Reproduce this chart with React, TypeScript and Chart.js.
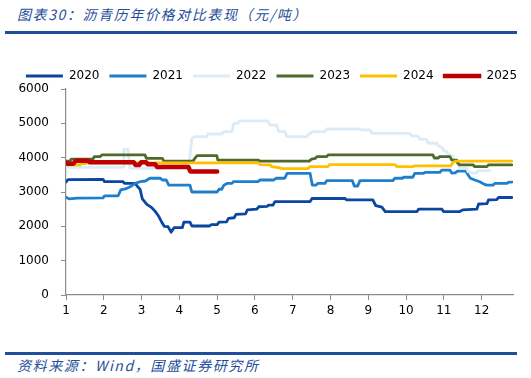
import { useEffect, useRef } from "react";
import { Chart, registerables } from "chart.js";
Chart.register(...registerables);

// [month position, price]
const years = ["2020", "2021", "2022", "2023", "2024", "2025"];

const s2020: [number, number][] = [
  [1.0, 3290], [1.05, 3360], [1.98, 3370], [2.02, 3300], [2.51, 3300], [2.55, 3250], [2.83, 3250],
  [2.9, 3150], [2.96, 3080], [3.02, 2800], [3.14, 2640], [3.25, 2560], [3.35, 2450], [3.45, 2300],
  [3.52, 2150], [3.6, 2000], [3.7, 1990], [3.78, 1830], [3.86, 1960], [4.08, 1960], [4.12, 2120],
  [4.28, 2120], [4.33, 2010], [4.8, 2010], [4.85, 2050], [5.0, 2050], [5.05, 2120], [5.25, 2130],
  [5.3, 2230], [5.45, 2250], [5.5, 2350], [5.75, 2360], [5.8, 2480], [6.05, 2500], [6.1, 2570],
  [6.32, 2580], [6.36, 2620], [6.48, 2620], [6.53, 2720], [7.46, 2720], [7.51, 2810], [8.38, 2815],
  [8.43, 2770], [9.12, 2770], [9.2, 2600], [9.36, 2560], [9.45, 2430], [10.29, 2430], [10.33, 2500],
  [10.95, 2500], [10.99, 2430], [11.42, 2430], [11.5, 2480], [11.87, 2500], [11.92, 2650],
  [12.14, 2660], [12.18, 2770], [12.4, 2780], [12.45, 2840], [12.8, 2840],
];

const s2021: [number, number][] = [
  [1.0, 2850], [1.08, 2800], [1.3, 2820], [1.98, 2830], [2.02, 2890], [2.38, 2890], [2.45, 3060],
  [2.6, 3100], [2.7, 3150], [2.83, 3250], [2.96, 3300], [3.1, 3320], [3.22, 3400], [3.5, 3400],
  [3.55, 3350], [3.65, 3350], [3.72, 3200], [4.28, 3200], [4.33, 3000], [5.0, 3000], [5.05, 3080],
  [5.12, 3080], [5.18, 3200], [5.26, 3250], [5.39, 3250], [5.43, 3300], [6.08, 3300], [6.13, 3350],
  [6.5, 3350], [6.56, 3400], [6.79, 3400], [6.85, 3540], [7.46, 3540], [7.52, 3200], [7.62, 3200],
  [7.66, 3250], [7.85, 3250], [7.9, 3330], [8.58, 3330], [8.63, 3175], [8.72, 3175], [8.78, 3330],
  [9.65, 3330], [9.7, 3400], [9.9, 3400], [9.94, 3430], [10.18, 3430], [10.23, 3540], [10.45, 3540],
  [10.5, 3570], [10.89, 3570], [10.95, 3640], [11.16, 3640], [11.21, 3550], [11.3, 3560],
  [11.36, 3610], [11.58, 3610], [11.64, 3500], [11.7, 3400], [11.82, 3350], [11.95, 3300],
  [12.06, 3230], [12.14, 3200], [12.3, 3200], [12.35, 3250], [12.67, 3250], [12.72, 3290], [12.8, 3290],
];

const s2022: [number, number][] = [
  [1.0, 3720], [2.51, 3720], [2.53, 4240], [2.64, 4240], [2.69, 3690], [3.57, 3690], [3.62, 3840],
  [4.26, 3840], [4.33, 4560], [4.41, 4610], [4.73, 4610], [4.76, 4690], [5.13, 4690], [5.18, 4760],
  [5.39, 4760], [5.44, 5000], [5.55, 5000], [5.6, 5070], [6.34, 5070], [6.4, 4950], [6.58, 4950],
  [6.63, 4760], [6.79, 4760], [6.85, 4610], [7.38, 4610], [7.41, 4690], [7.46, 4690], [7.51, 4760],
  [7.85, 4760], [7.9, 4835], [8.78, 4835], [8.83, 4810], [9.04, 4810], [9.1, 4710], [10.1, 4710],
  [10.15, 4630], [10.31, 4630], [10.37, 4535], [10.55, 4535], [10.58, 4420], [10.82, 4420],
  [10.86, 4340], [10.95, 4300], [11.0, 4200], [11.08, 4180], [11.12, 4080], [11.22, 4060],
  [11.26, 3930], [11.34, 3900], [11.38, 3790], [11.42, 3690], [11.6, 3690], [11.64, 3590],
  [11.78, 3550], [11.86, 3550], [11.9, 3620], [12.22, 3620],
];

const s2023: [number, number][] = [
  [1.0, 3900], [1.11, 3900], [1.14, 3960], [1.71, 3960], [1.75, 4030], [1.9, 4030], [1.95, 4080],
  [3.09, 4080], [3.13, 3980], [3.55, 3980], [3.59, 3900], [4.36, 3900], [4.41, 3980], [4.47, 4060],
  [4.99, 4060], [5.02, 3930], [6.08, 3930], [6.13, 3900], [7.44, 3900], [7.5, 3960], [7.6, 3980],
  [7.64, 4030], [7.9, 4030], [7.94, 4080], [10.71, 4080], [10.75, 3990], [10.85, 3990],
  [10.89, 4030], [11.16, 4030], [11.21, 3930], [11.34, 3930], [11.37, 3840], [11.42, 3790],
  [11.77, 3790], [11.82, 3740], [12.14, 3740], [12.18, 3790], [12.8, 3790],
];

const s2024: [number, number][] = [
  [1.0, 3790], [1.37, 3790], [1.42, 3830], [1.52, 3830], [1.56, 3850], [6.08, 3850], [6.13, 3800],
  [6.4, 3790], [6.45, 3740], [6.66, 3700], [6.71, 3680], [7.4, 3680], [7.46, 3740], [7.93, 3740],
  [7.98, 3800], [9.7, 3800], [9.76, 3740], [10.18, 3740], [10.23, 3760], [11.18, 3760],
  [11.24, 3860], [11.32, 3900], [12.8, 3900],
];

const s2025: [number, number][] = [
  [1.0, 3850], [1.05, 3820], [1.19, 3820], [1.26, 3910], [1.58, 3910], [1.62, 3870], [2.79, 3870],
  [2.84, 3790], [2.94, 3790], [2.99, 3870], [3.12, 3870], [3.16, 3810], [3.36, 3810], [3.41, 3730],
  [4.24, 3730], [4.29, 3600], [5.0, 3600],
];

const seriesList = [s2020, s2021, s2022, s2023, s2024, s2025];
const xTicks = [1, 2, 3, 4, 5, 6, 7, 8, 9, 10, 11, 12];
const yTicks = [0, 1000, 2000, 3000, 4000, 5000, 6000];

const colors = ["#0B46A0", "#1E7FCC", "#DDEBF7", "#4F6B2B", "#FFC000", "#C00000"];
const widths = [2.8, 2.8, 2.8, 2.8, 2.8, 4.5];

const FONT = "'DejaVu Sans', Verdana, sans-serif";
const CJK = "'Noto Sans CJK SC', sans-serif";
const TITLE_BLUE = "#1F4E9A";

const legendShift = {
  id: "legendShift",
  afterLayout(chart: any) {
    if (chart.legend) {
      chart.legend.left += 15;
      chart.legend.right += 15;
    }
  },
};

export default function App() {
  const ref = useRef<HTMLCanvasElement>(null);

  useEffect(() => {
    if (!ref.current) return;
    const chart = new Chart(ref.current, {
      type: "line",
      data: {
        datasets: seriesList.map((s, i) => ({
          label: years[i],
          data: s.map(([x, y]) => ({ x, y })),
          borderColor: colors[i],
          backgroundColor: colors[i],
          borderWidth: widths[i],
          pointRadius: 0,
          pointHoverRadius: 0,
          tension: 0,
          fill: false,
          order: 5 - i,
          borderJoinStyle: "round" as const,
          borderCapStyle: "round" as const,
        })),
      },
      plugins: [legendShift],
      options: {
        animation: false,
        responsive: false,
        devicePixelRatio: 1,
        events: [],
        layout: { padding: { left: 0, right: 18, top: 20, bottom: 0 } },
        plugins: {
          legend: {
            position: "top",
            align: "center",
            maxHeight: 29,
            labels: {
              boxWidth: 37,
              boxHeight: 3,
              padding: 10,
              color: "#000",
              font: { family: FONT, size: 12 },
              generateLabels: (c: any) =>
                c.data.datasets.map((d: any, i: number) => ({
                  text: d.label,
                  fillStyle: d.borderColor,
                  strokeStyle: d.borderColor,
                  lineWidth: i === 5 ? 1.5 : 0,
                  hidden: false,
                  datasetIndex: i,
                  fontColor: "#000",
                })),
            },
          },
          tooltip: { enabled: false },
        },
        scales: {
          x: {
            type: "linear",
            min: 1,
            max: 12.83,
            afterFit: (s: any) => {
              s.height = 55;
            },
            afterBuildTicks: (s: any) => {
              s.ticks = xTicks.map((v) => ({ value: v }));
            },
            ticks: {
              autoSkip: false,
              maxRotation: 0,
              padding: 4,
              color: "#000",
              font: { family: FONT, size: 12 },
              callback: (v: any) => String(v),
            },
            grid: { drawOnChartArea: false, drawTicks: true, tickLength: 5, color: "#8c8c8c" },
            border: { display: true, color: "#8c8c8c", width: 1.2 },
          },
          y: {
            type: "linear",
            min: 0,
            max: 6000,
            afterFit: (s: any) => {
              s.width = 66;
            },
            afterBuildTicks: (s: any) => {
              s.ticks = yTicks.map((v) => ({ value: v }));
            },
            ticks: {
              padding: 12,
              color: "#000",
              font: { family: FONT, size: 12 },
              callback: (v: any) => String(v),
            },
            grid: { drawOnChartArea: false, drawTicks: true, tickLength: 5, color: "#8c8c8c" },
            border: { display: true, color: "#8c8c8c", width: 1.2 },
          },
        },
      },
    });
    return () => chart.destroy();
  }, []);

  return (
    <div style={{ position: "absolute", left: 0, top: 0, width: 531, height: 378, background: "#fff", overflow: "hidden" }}>
      <div
        style={{
          position: "absolute",
          left: 17,
          top: 6,
          fontFamily: CJK,
          fontStyle: "italic",
          fontSize: 14,
          letterSpacing: 1.6,
          lineHeight: "16px",
          color: TITLE_BLUE,
          whiteSpace: "nowrap",
        }}
      >
        图表30：沥青历年价格对比表现（元/吨）
      </div>
      <div style={{ position: "absolute", left: 5, top: 31, width: 512, height: 2.5, background: TITLE_BLUE }} />
      <canvas
        ref={ref}
        width={531}
        height={310}
        style={{ position: "absolute", left: 0, top: 40, width: 531, height: 310 }}
      />
      <div style={{ position: "absolute", left: 5, top: 352, width: 512, height: 2.5, background: TITLE_BLUE }} />
      <div
        style={{
          position: "absolute",
          left: 17,
          top: 357,
          fontFamily: CJK,
          fontStyle: "italic",
          fontSize: 14,
          letterSpacing: 1.6,
          lineHeight: "16px",
          color: TITLE_BLUE,
          whiteSpace: "nowrap",
        }}
      >
        资料来源：Wind，国盛证券研究所
      </div>
    </div>
  );
}
